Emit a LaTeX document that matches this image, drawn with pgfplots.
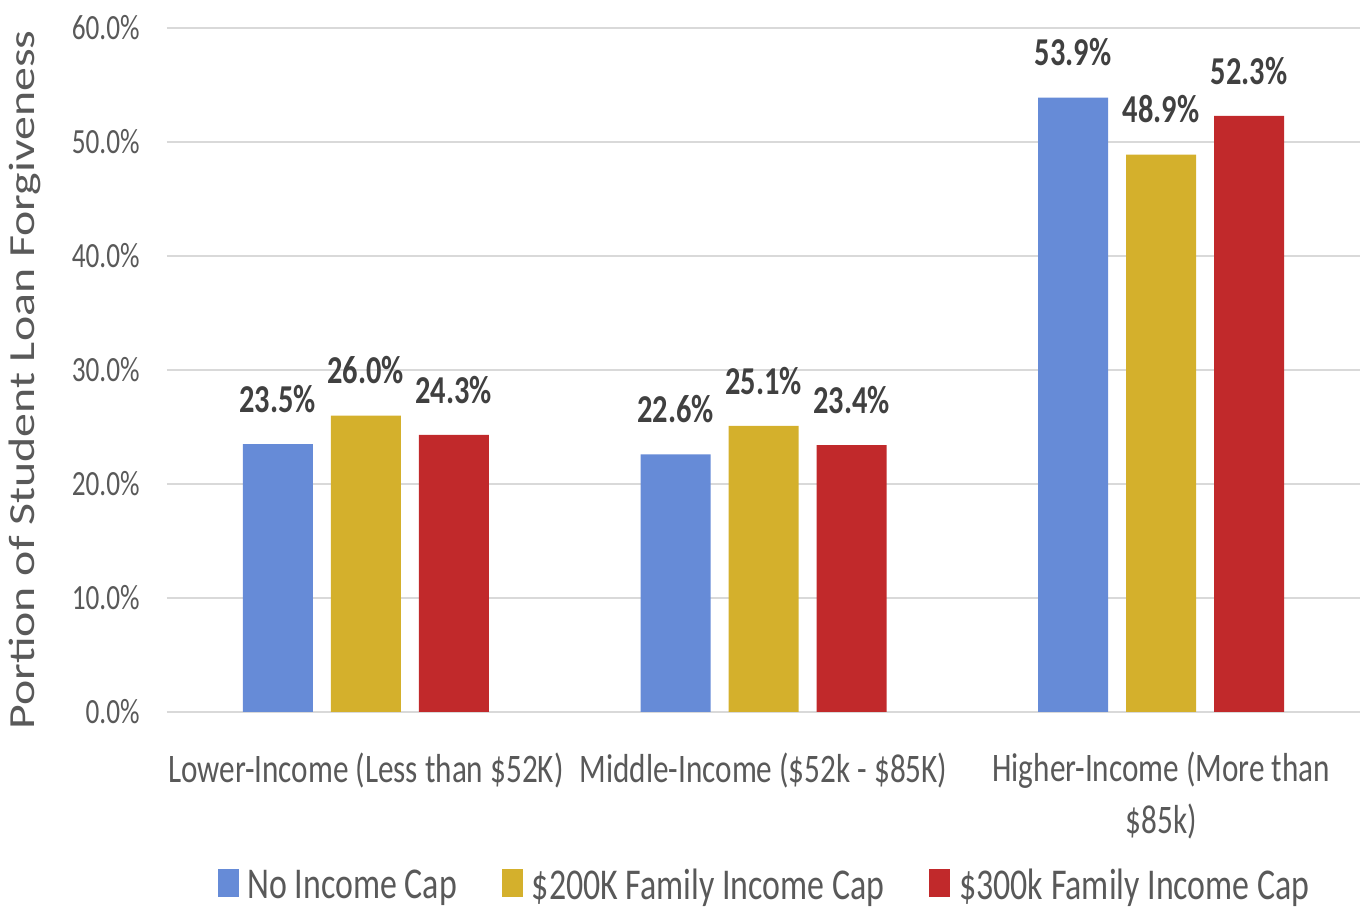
\documentclass[border=0pt]{standalone}
\usepackage{pgfplots}
\pgfplotsset{compat=1.18}
\usepackage{fontspec}
\setmainfont{Carlito}[FakeStretch=0.77]
\newfontfamily\ylabfont{Carlito}[FakeStretch=1.30]
\definecolor{cblue}{RGB}{102,139,215}
\definecolor{cgold}{RGB}{212,176,44}
\definecolor{cred}{RGB}{193,41,43}
\definecolor{gridgray}{RGB}{217,217,217}
\definecolor{tickgray}{RGB}{89,89,89}
\definecolor{labgray}{RGB}{64,64,64}
\begin{document}
\begin{tikzpicture}
\begin{axis}[
  at={(83.5pt,98pt)}, anchor=south west,
  width=596.5pt, height=342pt, scale only axis,
  xmin=-0.5, xmax=2.5, ymin=0, ymax=60,
  ybar=9pt, bar width=35pt,
  axis line style={draw=none},
  major tick length=0pt,
  ymajorgrids, grid style={draw=gridgray, line width=1pt},
  ytick={0,10,20,30,40,50,60},
  xtick={0,1,2},
  xticklabels={Lower-Income (Less than \$52K), Middle-Income (\$52k - \$85K), {Higher-Income (More than\\\$85k)}},
  xticklabel style={align=center, font=\fontsize{20.25pt}{26pt}\selectfont, text=tickgray, inner sep=0pt, anchor=north, yshift=-20pt},
  /pgf/number format/assume math mode=true,
  yticklabel={\pgfmathprintnumber[fixed,fixed zerofill,precision=1]{\tick}\%},
  yticklabel style={font=\fontsize{17.7pt}{20pt}\selectfont, text=tickgray, inner sep=0pt, anchor=east, xshift=-13.5pt},
  ylabel={Portion of Student Loan Forgiveness},
  ylabel style={font=\ylabfont\fontsize{18.4pt}{22pt}\selectfont, text=tickgray, at={(axis description cs:-0.11065,0.4854)}, anchor=base, inner sep=0pt},
  nodes near coords={\pgfmathprintnumber[fixed,fixed zerofill,precision=1]{\pgfplotspointmeta}\%},
  every node near coord/.append style={font=\bfseries\fontsize{19.75pt}{22pt}\selectfont, text=labgray, anchor=south, inner sep=0pt, yshift=15.5pt},
  legend style={at={(axis description cs:0.5,-0.2545)}, anchor=center, draw=none, fill=none, legend columns=3, font=\fontsize{22pt}{24pt}\selectfont, text=tickgray, inner sep=0pt, nodes={inner sep=0pt}, /tikz/every even column/.append style={column sep=22.5pt}, /tikz/every odd column/.append style={column sep=4.5pt}},
  legend image code/.code={\fill[#1,draw=none] (0pt,-5.5pt) rectangle (10.5pt,8.5pt);},
]
\addplot[fill=cblue, draw=none] coordinates {(0,23.5) (1,22.6) (2,53.9)};
\addplot[fill=cgold, draw=none] coordinates {(0,26.0) (1,25.1) (2,48.9)};
\addplot[fill=cred, draw=none] coordinates {(0,24.3) (1,23.4) (2,52.3)};
\legend{No Income Cap, \$200K Family Income Cap, \$300k Family Income Cap}
\end{axis}
\pgfresetboundingbox
\useasboundingbox (0pt,0pt) rectangle (680pt,454pt);
\end{tikzpicture}
\end{document}
